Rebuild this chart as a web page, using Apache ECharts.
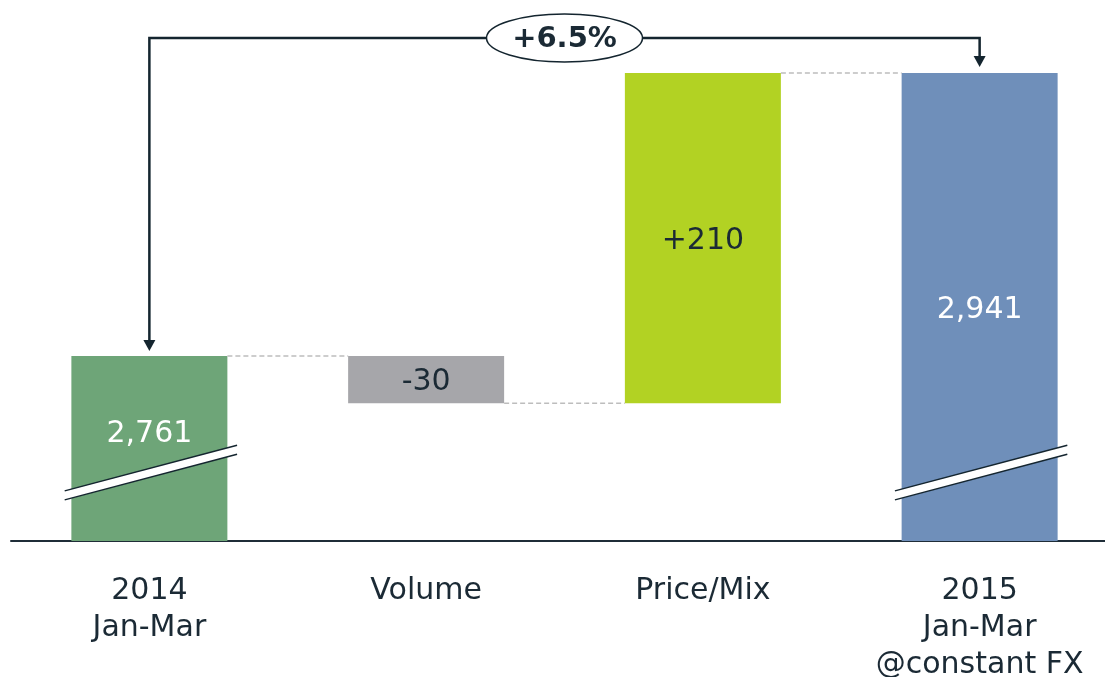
<!DOCTYPE html>
<html>
<head>
<meta charset="utf-8">
<script src="https://cdn.jsdelivr.net/npm/echarts@6/dist/echarts.min.js"></script>
<style>
html,body{margin:0;padding:0;background:#fff;}
#chart{width:1105px;height:677px;}
</style>
</head>
<body>
<div id="chart"></div>
<script>
// ---- data ----
const categories = ['2014\nJan-Mar', 'Volume', 'Price/Mix', '2015\nJan-Mar\n@constant FX'];
const startValue = 2761;
const deltas = [-30, 210];
const endValue = 2941;
const changeLabel = '+6.5%';

// ---- derived waterfall series ----
const baseData = [0];
const visData = [startValue];
const labels = [startValue.toLocaleString('en-US')];
const levels = [[startValue, startValue]];
let running = startValue;
deltas.forEach(d => {
  const next = running + d;
  baseData.push(Math.min(running, next));
  visData.push(Math.abs(d));
  labels.push((d > 0 ? '+' : '') + d);
  levels.push([running, next]);
  running = next;
});
baseData.push(0);
visData.push(endValue);
labels.push(endValue.toLocaleString('en-US'));
levels.push([endValue, endValue]);

const colors = ['#6ea578', '#a6a6aa', '#b2d223', '#6f8fba'];
const labelColors = ['#ffffff', '#1b2a35', '#1b2a35', '#ffffff'];
const labelOffsets = [[0, -14], [0, 3], [0, 3], [0, 3]];
const FONT = '"DejaVu Sans", Verdana, sans-serif';
const DARK = '#14252f';
const BAR_W = 156;

const chart = echarts.init(document.getElementById('chart'), null, {renderer: 'canvas'});
chart.setOption({
  animation: false,
  backgroundColor: '#ffffff',
  grid: {left: 11, top: 73, width: 1107, height: 468, outerBoundsMode: 'none', containLabel: false},
  xAxis: {
    type: 'category',
    data: categories,
    axisLine: {show: true, lineStyle: {color: '#1f2d38', width: 2}},
    axisTick: {show: false},
    splitLine: {show: false},
    axisLabel: {
      interval: 0, margin: 32, color: '#1b2a35', fontFamily: FONT, fontSize: 30, lineHeight: 37
    }
  },
  yAxis: {
    type: 'value', min: 2643.3, max: 2941, show: false,
    splitLine: {show: false}
  },
  series: [
    {
      type: 'bar', stack: 'w', barWidth: BAR_W, silent: true,
      itemStyle: {color: 'transparent'},
      data: baseData
    },
    {
      type: 'bar', stack: 'w', barWidth: BAR_W,
      data: visData.map((v, i) => ({
        value: v,
        itemStyle: {color: colors[i]},
        label: {
          show: true, position: 'inside', formatter: labels[i],
          color: labelColors[i], fontFamily: FONT, fontSize: 30, offset: labelOffsets[i]
        }
      }))
    }
  ]
});

// ---- annotations computed from data via the axes ----
function px(i, v) { return chart.convertToPixel({gridIndex: 0}, [i, v]); }
const half = BAR_W / 2;
const graphics = [];

// dashed connectors
for (let i = 0; i < levels.length - 1; i++) {
  const y = px(i, levels[i][1])[1];
  const x1 = px(i, levels[i][1])[0] + half;
  const x2 = px(i + 1, levels[i][1])[0] - half;
  graphics.push({
    type: 'line', z: 50,
    shape: {x1: x1, y1: y, x2: x2, y2: y},
    style: {stroke: '#bdbdbd', lineWidth: 1.5, lineDash: [5, 3]}
  });
}

// bracket with arrows
const pStart = px(0, startValue);
const pEnd = px(categories.length - 1, endValue);
const topY = pEnd[1] - 35;
const lw = 2.5;
graphics.push({
  type: 'polyline', z: 60,
  shape: {points: [[pStart[0], pStart[1] - 12], [pStart[0], topY], [pEnd[0], topY], [pEnd[0], pEnd[1] - 13]]},
  style: {stroke: DARK, lineWidth: lw, fill: null}
});
function arrow(x, tipY) {
  return {
    type: 'polygon', z: 61,
    shape: {points: [[x - 6, tipY - 11], [x + 6, tipY - 11], [x, tipY]]},
    style: {fill: DARK}
  };
}
graphics.push(arrow(pStart[0], pStart[1] - 5));
graphics.push(arrow(pEnd[0], pEnd[1] - 6));
const midX = (pStart[0] + pEnd[0]) / 2;
graphics.push({
  type: 'ellipse', z: 62,
  shape: {cx: midX, cy: topY, rx: 78, ry: 24},
  style: {fill: '#ffffff', stroke: DARK, lineWidth: 1.5}
});
graphics.push({
  type: 'text', z: 63,
  style: {
    x: midX, y: topY + 1, text: changeLabel, align: 'center', verticalAlign: 'middle',
    font: 'bold 29px ' + FONT, fill: '#1b2a35'
  }
});

// axis-break marks on the total bars
const breakValue = 2686.6;
[0, categories.length - 1].forEach(i => {
  const c = px(i, breakValue);
  const L = c[0] - half - 6.7, R = c[0] + half + 9.7;
  const slope = -0.265;
  const yAt = x => c[1] - 4.5 + slope * (x - c[0]);
  const gap = 9;
  graphics.push({
    type: 'polygon', z: 70,
    shape: {points: [[L, yAt(L)], [R, yAt(R)], [R, yAt(R) + gap], [L, yAt(L) + gap]]},
    style: {fill: '#ffffff'}
  });
  graphics.push({type: 'line', z: 71, shape: {x1: L, y1: yAt(L), x2: R, y2: yAt(R)}, style: {stroke: DARK, lineWidth: 1.5}});
  graphics.push({type: 'line', z: 71, shape: {x1: L, y1: yAt(L) + gap, x2: R, y2: yAt(R) + gap}, style: {stroke: DARK, lineWidth: 1.5}});
});

chart.setOption({graphic: graphics});
</script>
</body>
</html>
